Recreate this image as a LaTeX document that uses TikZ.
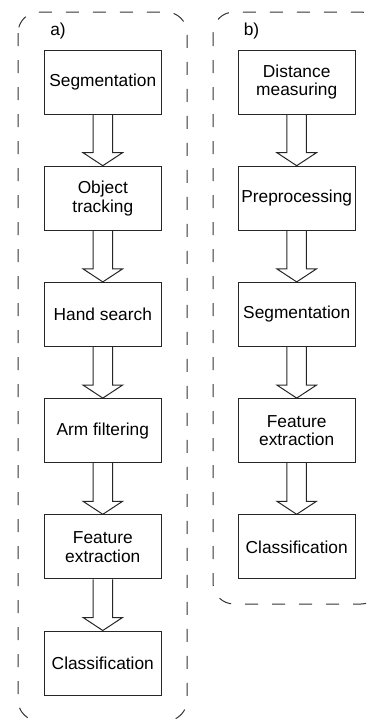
\documentclass[tikz,border=0pt]{standalone}
\usepackage{fontspec}
\setmainfont{Liberation Sans}
\usetikzlibrary{calc}

\tikzset{
  stepbox/.style={draw=black!85, line width=0.75pt, minimum width=87.5pt,
    minimum height=48pt, align=center, inner sep=1pt,
    font=\fontsize{13pt}{14pt}\selectfont},
  frame/.style={draw=black!80, line width=0.75pt, rounded corners=15.75pt,
    dash pattern=on 9.75pt off 10.5pt},
  lbl/.style={font=\fontsize{13pt}{14pt}\selectfont, inner sep=0pt},
  flowarrow/.style={draw=black!85, line width=0.75pt, line join=miter},
}

% hollow block arrow from the bottom of one box to the top of the next
\newcommand{\blockarrow}[2]{%
  \draw[flowarrow]
    ($(#1.south)+(-9.75,0)$) -- ($(#2.north)+(-9.75,-13)$)
    -- ($(#2.north)+(-19.75,-13)$) -- (#2.north)
    -- ($(#2.north)+(19.75,-13)$) -- ($(#2.north)+(9.75,-13)$)
    -- ($(#1.south)+(9.75,0)$);}

\begin{document}
\begin{tikzpicture}[x=0.75pt, y=-0.75pt]
  \useasboundingbox (0,0) rectangle (373,719);

  % dashed group frames
  \draw[frame] (18,12) rectangle (187,721);
  \draw[frame] (213,12) rectangle (382,604);

  \node[lbl] (la) at (58,31) {a)};
  \node[lbl] (lb) at (251.5,31) {b)};

  % pipeline a)
  \node[stepbox] (a1) at (102.8,82)  {Segmentation};
  \node[stepbox] (a2) at (102.8,198.2) {Object\\tracking};
  \node[stepbox] (a3) at (102.8,314.4) {Hand search};
  \node[stepbox] (a4) at (102.8,430.6) {Arm filtering};
  \node[stepbox] (a5) at (102.8,546.8) {Feature\\extraction};
  \node[stepbox] (a6) at (102.8,663) {Classification};

  % pipeline b)
  \node[stepbox] (b1) at (296.7,82)  {Distance\\measuring};
  \node[stepbox] (b2) at (296.7,198.2) {Preprocessing};
  \node[stepbox] (b3) at (296.7,314.4) {Segmentation};
  \node[stepbox] (b4) at (296.7,430.6) {Feature\\extraction};
  \node[stepbox] (b5) at (296.7,546.8) {Classification};

  \blockarrow{a1}{a2}
  \blockarrow{a2}{a3}
  \blockarrow{a3}{a4}
  \blockarrow{a4}{a5}
  \blockarrow{a5}{a6}

  \blockarrow{b1}{b2}
  \blockarrow{b2}{b3}
  \blockarrow{b3}{b4}
  \blockarrow{b4}{b5}
\end{tikzpicture}
\end{document}
